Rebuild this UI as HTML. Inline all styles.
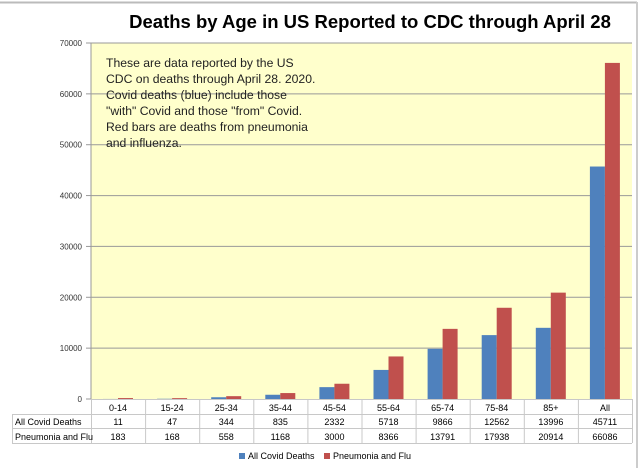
<!DOCTYPE html>
<html><head><meta charset="utf-8"><style>
body{margin:0;background:#fff;}
svg{display:block;font-family:"Liberation Sans",sans-serif;}
</style></head><body>
<svg id="c" width="640" height="468" viewBox="0 0 640 468">
<rect x="0" y="0" width="640" height="468" fill="#fff"/>
<line x1="0" y1="2.5" x2="637" y2="2.5" stroke="#bbb" stroke-width="2"/>
<line x1="637" y1="2" x2="637" y2="468" stroke="#ccc" stroke-width="2"/>
<text x="370" y="28" text-anchor="middle" font-size="18.5" font-weight="bold">Deaths by Age in US Reported to CDC through April 28</text>
<rect x="91" y="43" width="541" height="356" fill="#ffffcc"/>
<g id="grid"></g>
<g id="bars"></g>
<line x1="91" y1="43" x2="91" y2="399" stroke="#999"/>
<g font-size="12.2" fill="#222">
<text x="106" y="67">These are data reported by the US</text>
<text x="106" y="83">CDC on deaths through April 28. 2020.</text>
<text x="106" y="99">Covid deaths (blue) include those</text>
<text x="106" y="115">"with" Covid and those "from" Covid.</text>
<text x="106" y="131">Red bars are deaths from pneumonia</text>
<text x="106" y="147">and influenza.</text>
</g>
<g id="table"></g>
<g font-size="9">
<rect x="239" y="453" width="6" height="6" fill="#4f81bd"/>
<text x="248" y="459">All Covid Deaths</text>
<rect x="324" y="453" width="6" height="6" fill="#c0504d"/>
<text x="333" y="459">Pneumonia and Flu</text>
</g>
</svg>
<script>
const categories=["0-14","15-24","25-34","35-44","45-54","55-64","65-74","75-84","85+","All"];
const covid=[11,47,344,835,2332,5718,9866,12562,13996,45711];
const flu=[183,168,558,1168,3000,8366,13791,17938,20914,66086];
const yTicks=[0,10000,20000,30000,40000,50000,60000,70000];
const NS="http://www.w3.org/2000/svg";
const L=91,R=632,T=43,B=399,yMax=70000;
const colW=(R-L)/categories.length;
const y=v=>B-(v/yMax)*(B-T);
const xCol=i=>L+i*colW;
function mk(tag,attrs,parent){const e=document.createElementNS(NS,tag);for(const k in attrs)e.setAttribute(k,attrs[k]);parent.appendChild(e);return e;}
const grid=document.getElementById('grid');
yTicks.forEach(t=>{
  if(t>0){const g=mk('line',{x1:L,x2:R,y1:y(t),y2:y(t),stroke:'#999','stroke-width':1},grid);
  
  }
  const tk=mk('line',{x1:L-5,x2:L,y1:y(t),y2:y(t),stroke:'#999'},grid);
  
  
  const tx=mk('text',{x:L-9,y:y(t)+3,'text-anchor':'end','font-size':'8',fill:'#333'},grid);
  tx.textContent=t;
  
  
});
const bars=document.getElementById('bars');
categories.forEach((c,i)=>{
  const b=mk('rect',{x:xCol(i)+12,y:y(covid[i]),width:15,height:B-y(covid[i]),fill:'#4f81bd'},bars);
  
  
  const r=mk('rect',{x:xCol(i)+27,y:y(flu[i]),width:15,height:B-y(flu[i]),fill:'#c0504d'},bars);
  
  
});
const tb=document.getElementById('table');
const lc='#c8c8c8';
mk('line',{x1:L,x2:R,y1:399.5,y2:399.5,stroke:lc},tb);
mk('line',{x1:12,x2:R,y1:414.5,y2:414.5,stroke:lc},tb);
mk('line',{x1:12,x2:R,y1:428.5,y2:428.5,stroke:lc},tb);
mk('line',{x1:12,x2:R,y1:443.5,y2:443.5,stroke:lc},tb);
mk('line',{x1:12.5,x2:12.5,y1:414,y2:443,stroke:lc},tb);
for(let i=0;i<=categories.length;i++){
  mk('line',{x1:xCol(i)+0.5,x2:xCol(i)+0.5,y1:399,y2:443,stroke:lc},tb);
}
const lab1=mk('text',{x:15,y:425,'font-size':'9'},tb);lab1.textContent='All Covid Deaths';


const lab2=mk('text',{x:15,y:440,'font-size':'9'},tb);lab2.textContent='Pneumonia and Flu';


categories.forEach((c,i)=>{
  const cx=xCol(i)+colW/2;
  const h=mk('text',{x:cx,y:411,'text-anchor':'middle','font-size':'9'},tb);h.textContent=c;
  
  
  const a=mk('text',{x:cx,y:425,'text-anchor':'middle','font-size':'9'},tb);a.textContent=covid[i];
  
  
  const f=mk('text',{x:cx,y:440,'text-anchor':'middle','font-size':'9'},tb);f.textContent=flu[i];
  
  
});
</script>
</body></html>
